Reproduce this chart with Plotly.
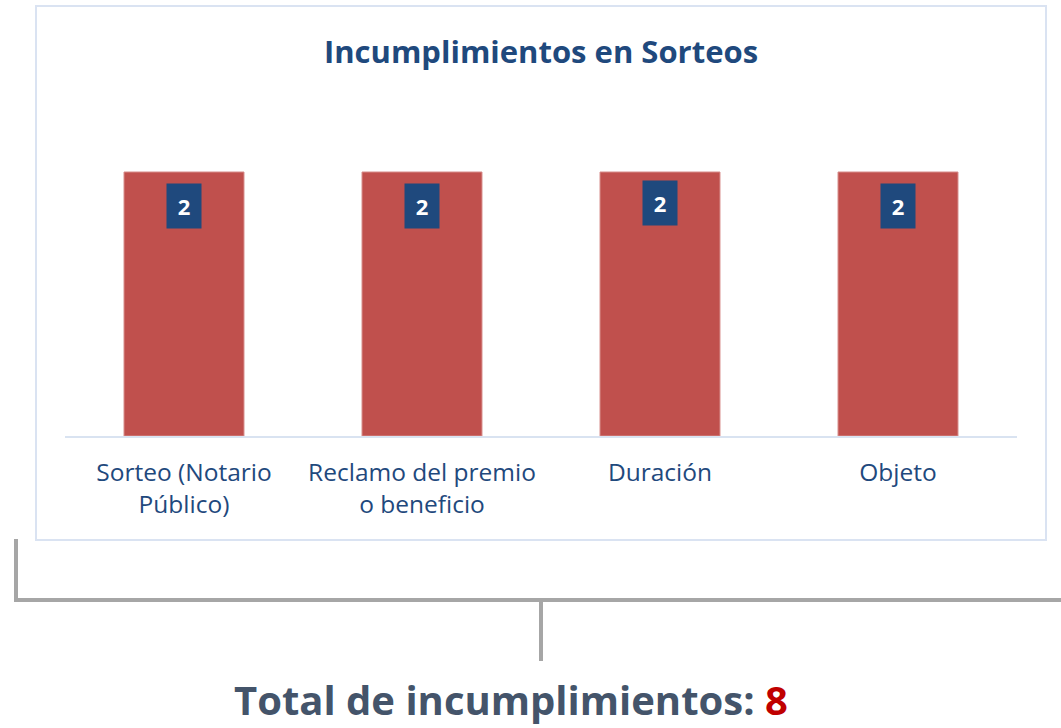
import plotly.graph_objects as go

categories = ["Sorteo (Notario<br>Público)", "Reclamo del premio<br>o beneficio", "Duración", "Objeto"]
values = [2, 2, 2, 2]
total = 8
title_text = "Incumplimientos en Sorteos"

W, H = 1061, 728
L, R, T, B = 65, 44, 106, 292
PW, PH = W - L - R, H - T - B

def px(x):
    return (x - L) / PW

def py(y):
    return (H - B - y) / PH

fig = go.Figure()
fig.add_trace(go.Bar(
    x=list(range(len(categories))), y=values,
    marker=dict(color="#C0504D", line=dict(color="#D68B89", width=1)),
    width=0.504, hoverinfo="skip",
))

label_shift = [-11, -11, -8, -11]
for i, v in enumerate(values):
    fig.add_annotation(
        x=i, y=v, xref="x", yref="y", text=f"<b>{v}</b>", showarrow=False,
        yanchor="top", yshift=label_shift[i], width=32, height=42,
        bgcolor="#1F497D", font=dict(family="Open Sans", size=22, color="white"),
    )

shapes = []
# outer chart border
shapes.append(dict(type="rect", xref="paper", yref="paper",
                   x0=px(36), x1=px(1046), y0=py(540), y1=py(6),
                   line=dict(color="#DAE3F2", width=2), fillcolor="rgba(0,0,0,0)", layer="below"))
# bracket
grey = "#A6A6A6"
shapes.append(dict(type="line", xref="paper", yref="paper", x0=px(16), x1=px(16), y0=py(539), y1=py(601),
                   line=dict(color=grey, width=4)))
shapes.append(dict(type="line", xref="paper", yref="paper", x0=px(14), x1=px(1061), y0=py(600), y1=py(600),
                   line=dict(color=grey, width=4)))
shapes.append(dict(type="line", xref="paper", yref="paper", x0=px(541), x1=px(541), y0=py(600), y1=py(661),
                   line=dict(color=grey, width=4)))

fig.add_annotation(
    x=px(511), y=py(699), xref="paper", yref="paper", showarrow=False,
    text=f"<b>Total de incumplimientos: <span style='color:#C00000'>{total}</span></b>",
    font=dict(family="Open Sans", size=40, color="#44546A"),
    xanchor="center", yanchor="middle",
)

fig.update_layout(
    width=W, height=H, autosize=False,
    margin=dict(l=L, r=R, t=T, b=B),
    paper_bgcolor="white", plot_bgcolor="white",
    showlegend=False, shapes=shapes,
    title=dict(text=f"<b>{title_text}</b>", x=541 / W, xanchor="center",
               y=1 - 52 / H, yanchor="middle",
               font=dict(family="Open Sans", size=31, color="#1F497D")),
    xaxis=dict(tickmode="array", tickvals=list(range(len(categories))), ticktext=categories,
               range=[-0.5, len(categories) - 0.5], showline=True, linecolor="#D9E3F1", linewidth=2,
               showgrid=False, zeroline=False, ticks="", ticklabelstandoff=14,
               tickfont=dict(family="Open Sans", size=24.5, color="#1F497D")),
    yaxis=dict(range=[0, 2.5], visible=False, showgrid=False, zeroline=False),
)

fig.write_html("out.html", config={"displayModeBar": False},
               post_script="document.body.style.margin='0';document.body.style.overflow='hidden';")
